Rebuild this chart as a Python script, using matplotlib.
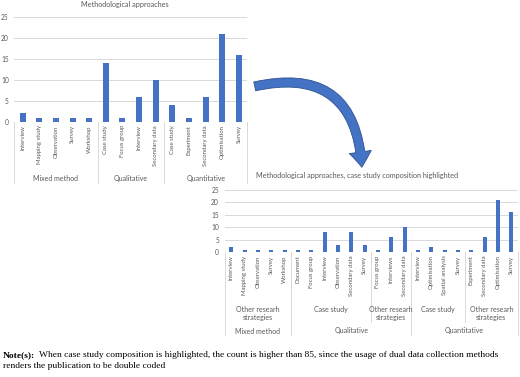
import matplotlib
matplotlib.use("Agg")
import matplotlib.pyplot as plt
from matplotlib.patches import FancyArrowPatch

W, H = 520, 377
DPI = 100

BAR = "#4472C4"
GRID = "#D9D9D9"
TXT = "#595959"
FONT = "Lato"

# ── Chart 1 data ────────────────────────────────────────────────────────────
cats1 = ["Interview", "Mapping study", "Observation", "Survey", "Workshop",
         "Case study", "Focus group", "Interview", "Secondary data",
         "Case study", "Experiment", "Secondary data", "Optimisation", "Survey"]
vals1 = [2, 1, 1, 1, 1, 14, 1, 6, 10, 4, 1, 6, 21, 16]
groups1 = ["Mixed method", "Qualitative", "Quantitative"]
gsize1 = [5, 4, 5]

# ── Chart 2 data ────────────────────────────────────────────────────────────
cats2 = ["Interview", "Mapping study", "Observation", "Survey", "Workshop",
         "Document", "Focus group", "Interview", "Observation", "Secondary data", "Survey",
         "Focus group", "Interviews", "Secondary data",
         "Interview", "Optimisation", "Spatial analysis", "Survey",
         "Experiment", "Secondary data", "Optimisation", "Survey"]
vals2 = [2, 1, 1, 1, 1,
         1, 1, 8, 3, 8, 3,
         1, 6, 10,
         1, 2, 1, 1,
         1, 6, 21, 16]
sub2 = ["Other researh\nstrategies", "Case study", "Other researh\nstrategies",
        "Case study", "Other researh\nstrategies"]
subsize2 = [5, 6, 3, 4, 4]
groups2 = ["Mixed method", "Qualitative", "Quantitative"]
gsize2 = [5, 9, 8]

fig = plt.figure(figsize=(W / DPI, H / DPI), dpi=DPI)
fig.patch.set_facecolor("white")


def px_axes(l, t, r, b):
    return fig.add_axes([l / W, 1 - b / H, (r - l) / W, (b - t) / H])


def fy(y):
    return 1 - y / H


def setup(ax, cats, vals, width):
    x = range(len(cats))
    ax.bar(x, vals, width=width, color=BAR, zorder=3)
    ax.set_xlim(-0.5, len(cats) - 0.5)
    ax.set_ylim(0, 25)
    ax.set_yticks([0, 5, 10, 15, 20, 25])
    ax.yaxis.grid(True, color=GRID, lw=0.7, zorder=0)
    ax.set_axisbelow(True)
    for s in ax.spines.values():
        s.set_visible(False)
    ax.tick_params(length=0, labelsize=4.8, colors=TXT, pad=4)
    ax.tick_params(axis="x", pad=2.5)
    ax.set_xticks(list(x))
    ax.set_xticklabels(cats, rotation=90, fontsize=4.3, color=TXT, family=FONT)
    for lab in ax.get_yticklabels():
        lab.set_family(FONT)


def yf(bottom, height, y):
    return (bottom - y) / height


def vline(ax, xd, bottom, height, y1, y2):
    tr = ax.get_xaxis_transform()
    ax.plot([xd, xd], [yf(bottom, height, y1), yf(bottom, height, y2)],
            transform=tr, color=GRID, lw=0.7, clip_on=False)


def label(ax, xd, bottom, height, y, s, va="center"):
    ax.text(xd, yf(bottom, height, y), s, transform=ax.get_xaxis_transform(),
            ha="center", va=va, fontsize=5, color=TXT, family=FONT,
            linespacing=1.1)


# ── Chart 1 ────────────────────────────────────────────────────────────────
B1, T1 = 121.7, 17.3
ax1 = px_axes(14.3, T1, 247.3, B1)
setup(ax1, cats1, vals1, 0.36)
h1 = B1 - T1
start = 0
vline(ax1, -0.5, B1, h1, B1, 183)
for g, n in zip(groups1, gsize1):
    label(ax1, start + (n - 1) / 2, B1, h1, 178, g)
    start += n
    vline(ax1, start - 0.5, B1, h1, B1, 183)
fig.text(125 / W, fy(4), "Methodological approaches", ha="center", va="center",
         fontsize=5.2, color=TXT, family=FONT)

# ── Chart 2 ────────────────────────────────────────────────────────────────
B2, T2 = 252, 190
ax2 = px_axes(224.5, T2, 518, B2)
setup(ax2, cats2, vals2, 0.3)
h2 = B2 - T2
start = 0
for s, n in zip(sub2, subsize2):
    label(ax2, start + (n - 1) / 2, B2, h2, 306, s, va="top")
    start += n
    vline(ax2, start - 0.5, B2, h2, B2, 322)
start = 0
vline(ax2, -0.5, B2, h2, B2, 335)
for g, n in zip(groups2, gsize2):
    label(ax2, start + (n - 1) / 2, B2, h2, 331, g)
    start += n
    vline(ax2, start - 0.5, B2, h2, B2, 335)
fig.text(357 / W, fy(175), "Methodological approaches, case study composition highlighted",
         ha="center", va="center", fontsize=5.2, color=TXT, family=FONT)

# ── Curved arrow between the charts ────────────────────────────────────────
ov = fig.add_axes([0, 0, 1, 1])
ov.set_xlim(0, W)
ov.set_ylim(H, 0)
ov.axis("off")
ov.patch.set_alpha(0)
ov.add_patch(FancyArrowPatch((252, 87), (362, 170),
                             connectionstyle="arc3,rad=-0.6",
                             arrowstyle="simple,head_length=1.1,head_width=1.6,tail_width=0.65",
                             mutation_scale=10, fc=BAR, ec="#2F528F", lw=0.6))

# ── Note ───────────────────────────────────────────────────────────────────
fig.text(3 / W, fy(355), "Note(s):", ha="left", va="center", fontsize=6.8,
         fontweight="bold", family="Liberation Serif", color="black")
fig.text(39 / W, fy(355),
         "When case study composition is highlighted, the count is higher than 85, "
         "since the usage of dual data collection methods",
         ha="left", va="center", fontsize=6.8, family="Liberation Serif", color="black")
fig.text(3 / W, fy(366), "renders the publication to be double coded",
         ha="left", va="center", fontsize=6.8, family="Liberation Serif", color="black")

fig.savefig("out.png", dpi=DPI, facecolor="white")
